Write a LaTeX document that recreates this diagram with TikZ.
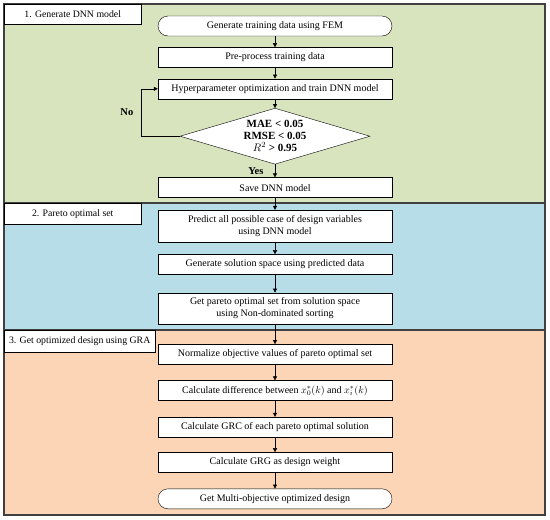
\documentclass[tikz,border=0pt]{standalone}
\usepackage{fontspec}
\setmainfont{Liberation Serif}
\usepackage{tikz}
\usetikzlibrary{positioning, arrows.meta, shapes.geometric}

\definecolor{greenbg}{HTML}{D7E4BD}
\definecolor{bluebg}{HTML}{B7DDE8}
\definecolor{peachbg}{HTML}{FBD5B5}

\begin{document}
\begin{tikzpicture}[
  x=1pt, y=-1pt,
  node distance=11pt,
  box/.style={rectangle, draw, fill=white, minimum width=234pt, minimum height=20pt, align=center, font=\fontsize{10}{12.5}\selectfont, inner sep=1pt},
  term/.style={box, rounded corners=10pt},
  cond/.style={diamond, draw, fill=white, aspect=3.5, minimum width=190pt, minimum height=56pt, inner sep=0pt, align=center, font=\fontsize{11}{12}\selectfont\bfseries},
  title/.style={rectangle, draw, fill=white, anchor=north west, align=center, font=\fontsize{9.8}{12}\selectfont},
  panel/.style={draw=black!75, line width=1.3pt},
  arrow/.style={-{Triangle[length=4pt, width=4pt]}},
  lbl/.style={font=\fontsize{10.5}{12}\selectfont\bfseries}
]
\useasboundingbox (0,0) rectangle (550,520);

% stages
\draw[panel, fill=greenbg] (4,4) rectangle (545,203);
\draw[panel, fill=bluebg] (4,203) rectangle (545,330);
\draw[panel, fill=peachbg] (4,330) rectangle (545,515);
\node[title, minimum width=137pt, minimum height=20pt] (stage1) at (4,4) {1. Generate DNN model};
\node[title, minimum width=137pt, minimum height=21pt] (stage2) at (4,203) {2. Pareto optimal set};
\node[title, minimum width=151pt, minimum height=22pt] (stage3) at (4,330) {3. Get optimized design using GRA};

% flow
\node[term] (fem) at (275,26) {Generate training data using FEM};
\node[box, below=of fem] (prep) {Pre-process training data};
\node[box, below=of prep] (train) {Hyperparameter optimization and train DNN model};
\node[cond, below=9pt of train] (check) {MAE < 0.05\\RMSE < 0.05\\$R^2$ > 0.95};
\node[box, below=13pt of check] (save) {Save DNN model};
\node[box, minimum height=32pt, below=12pt of save] (predict) {Predict all possible case of design variables\\using DNN model};
\node[box, below=12pt of predict] (space) {Generate solution space using predicted data};
\node[box, minimum height=31pt, below=18pt of space] (pareto) {Get pareto optimal set from solution space\\using Non-dominated sorting};
\node[box, below=20pt of pareto] (norm) {Normalize objective values of pareto optimal set};
\node[box, below=16pt of norm] (diff) {Calculate difference between $x_0^*(k)$ and $x_i^*(k)$};
\node[box, below=16pt of diff] (grc) {Calculate GRC of each pareto optimal solution};
\node[box, below=15pt of grc] (grg) {Calculate GRG as design weight};
\node[term, below=16pt of grg] (final) {Get Multi-objective optimized design};

\draw[arrow] (fem) -- (prep);
\draw[arrow] (prep) -- (train);
\draw[arrow] (train) -- (check);
\draw[arrow] (check) -- node[lbl, left=8pt] {Yes} (save);
\draw[arrow] (check.west) -- ++(-39,0) |- node[lbl, pos=0.25, left=4pt] {No} (train.west);
\draw[arrow] (save) -- (predict);
\draw[arrow] (predict) -- (space);
\draw[arrow] (space) -- (pareto);
\draw[arrow] (pareto) -- (norm);
\draw[arrow] (norm) -- (diff);
\draw[arrow] (diff) -- (grc);
\draw[arrow] (grc) -- (grg);
\draw[arrow] (grg) -- (final);
\end{tikzpicture}
\end{document}
